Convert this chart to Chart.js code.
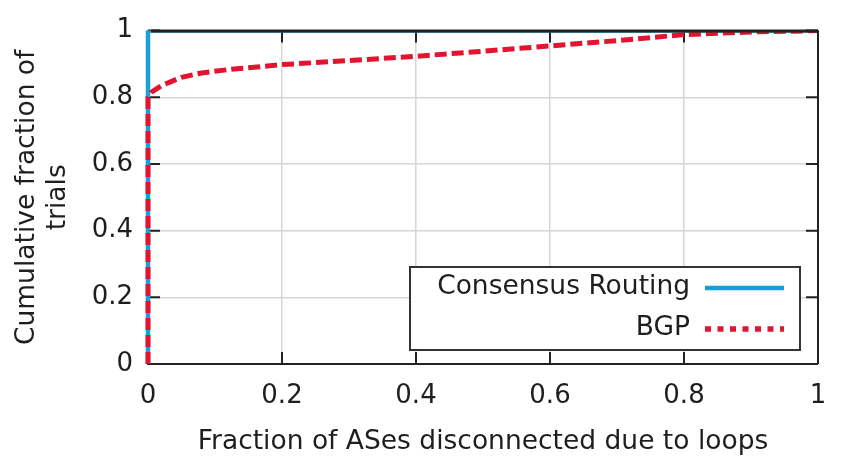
<!DOCTYPE html>
<html>
<head>
<meta charset="utf-8">
<script src="https://cdn.jsdelivr.net/npm/chart.js@4"></script>
<style>
  html, body { margin: 0; padding: 0; background: #fff; }
  #wrap { width: 846px; height: 458px; }
</style>
</head>
<body>
<div id="wrap"><canvas id="cdf"></canvas></div>
<script>
// Values
const consensusX = [0, 0, 1];
const consensusY = [0, 1, 1];
const bgpX = [0, 0, 0.005, 0.02, 0.05, 0.08, 0.12, 0.2, 0.3, 0.4, 0.5, 0.6, 0.7, 0.8, 0.9, 1.0];
const bgpY = [0, 0.8, 0.815, 0.835, 0.86, 0.873, 0.883, 0.898, 0.91, 0.923, 0.938, 0.954, 0.97, 0.988, 0.996, 1.0];
const tickValues = [0, 0.2, 0.4, 0.6, 0.8, 1];
const seriesNames = ['Consensus Routing', 'BGP'];

const BLUE = '#1a9fd7';
const RED = '#e4132f';
const INK = '#1e1e1e';
const FONT = "'DejaVu Sans', sans-serif";

function toPoints(xs, ys) {
    return xs.map((x, i) => ({ x: x, y: ys[i] }));
}

// frame + inward tick marks like gnuplot
const framePlugin = {
    id: 'frame',
    beforeDatasetsDraw(chart) {
        const ctx = chart.ctx;
        const a = chart.chartArea;
        const xs = chart.scales.x, ys = chart.scales.y;
        ctx.save();
        ctx.strokeStyle = '#222';
        ctx.lineWidth = 2;
        ctx.beginPath();
        tickValues.forEach(v => {
            const px = xs.getPixelForValue(v);
            ctx.moveTo(px, a.bottom); ctx.lineTo(px, a.bottom - 12);
            ctx.moveTo(px, a.top); ctx.lineTo(px, a.top + 12);
            const py = ys.getPixelForValue(v);
            ctx.moveTo(a.left, py); ctx.lineTo(a.left + 12, py);
            ctx.moveTo(a.right, py); ctx.lineTo(a.right - 12, py);
        });
        // left and bottom edges sit under the curves
        ctx.moveTo(a.left, a.top);
        ctx.lineTo(a.left, a.bottom);
        ctx.lineTo(a.right, a.bottom);
        ctx.stroke();
        ctx.restore();
    },
    afterDatasetsDraw(chart) {
        // top and right edges cover the flat end of the curves
        const ctx = chart.ctx;
        const a = chart.chartArea;
        ctx.save();
        ctx.strokeStyle = '#222';
        ctx.lineWidth = 3;
        ctx.beginPath();
        ctx.moveTo(a.left + 3, a.top + 0.5);
        ctx.lineTo(a.right, a.top + 0.5);
        ctx.stroke();
        ctx.lineWidth = 2;
        ctx.beginPath();
        ctx.moveTo(a.right, a.top);
        ctx.lineTo(a.right, a.bottom);
        ctx.stroke();
        ctx.restore();
    }
};

// boxed key in the lower right, text right-aligned before the sample line
const keyPlugin = {
    id: 'key',
    afterDraw(chart) {
        const ctx = chart.ctx;
        const bx = 410, by = 267, bw = 390, bh = 83;
        ctx.save();
        ctx.fillStyle = '#fff';
        ctx.fillRect(bx, by, bw, bh);
        ctx.strokeStyle = '#333';
        ctx.lineWidth = 2;
        ctx.strokeRect(bx, by, bw, bh);
        ctx.font = '26.5px ' + FONT;
        ctx.fillStyle = INK;
        ctx.textAlign = 'right';
        ctx.textBaseline = 'middle';
        const rows = [
            { label: seriesNames[0], color: BLUE, dash: [], y: by + 20 },
            { label: seriesNames[1], color: RED, dash: [6, 6.5], y: by + 61 }
        ];
        rows.forEach(r => {
            ctx.fillText(r.label, 690, r.y);
            ctx.beginPath();
            ctx.setLineDash(r.dash);
            ctx.strokeStyle = r.color;
            ctx.lineWidth = r.dash.length ? 5.5 : 4.5;
            ctx.moveTo(705, r.y + 1);
            ctx.lineTo(784, r.y + 1);
            ctx.stroke();
        });
        ctx.restore();
    }
};

new Chart(document.getElementById('cdf'), {
    type: 'scatter',
    data: {
        datasets: [
            {
                label: seriesNames[0],
                data: toPoints(consensusX, consensusY),
                showLine: true,
                borderColor: BLUE,
                borderWidth: 4.5,
                pointRadius: 0,
                clip: { left: 4, right: 0, top: 0, bottom: 4 },
                order: 2
            },
            {
                label: seriesNames[1],
                data: toPoints(bgpX, bgpY),
                showLine: true,
                borderColor: RED,
                borderWidth: 5,
                borderDash: [12, 5],
                pointRadius: 0,
                clip: { left: 4, right: 0, top: 0, bottom: 4 },
                order: 1
            }
        ]
    },
    options: {
        responsive: true,
        maintainAspectRatio: false,
        animation: false,
        layout: { padding: { top: 19, right: 28, left: 0, bottom: 0 } },
        plugins: {
            legend: { display: false },
            tooltip: { enabled: false }
        },
        scales: {
            x: {
                type: 'linear',
                min: 0, max: 1,
                afterBuildTicks: s => { s.ticks = tickValues.map(v => ({ value: v })); },
                afterFit: s => { s.height = 94; },
                border: { display: false },
                grid: { color: '#d6d6d6', lineWidth: 1.5, drawTicks: false },
                ticks: {
                    color: INK,
                    padding: 17,
                    maxRotation: 0,
                    font: { family: FONT, size: 26 },
                    callback: v => String(v)
                },
                title: {
                    display: true,
                    text: 'Fraction of ASes disconnected due to loops',
                    color: INK,
                    font: { family: FONT, size: 26.5 },
                    padding: { top: 4, bottom: 0 }
                }
            },
            y: {
                type: 'linear',
                min: 0, max: 1,
                afterBuildTicks: s => { s.ticks = tickValues.map(v => ({ value: v })); },
                afterFit: s => { s.width = 148; },
                border: { display: false },
                grid: { color: '#d6d6d6', lineWidth: 1.5, drawTicks: false },
                ticks: {
                    color: INK,
                    padding: 15,
                    font: { family: FONT, size: 26 },
                    callback: v => String(v)
                },
                title: {
                    display: true,
                    text: ['Cumulative fraction of', 'trials'],
                    color: INK,
                    font: { family: FONT, size: 26.5, lineHeight: 1.15 },
                    padding: { top: 12, bottom: 0 }
                }
            }
        }
    },
    plugins: [framePlugin, keyPlugin]
});
</script>
</body>
</html>
